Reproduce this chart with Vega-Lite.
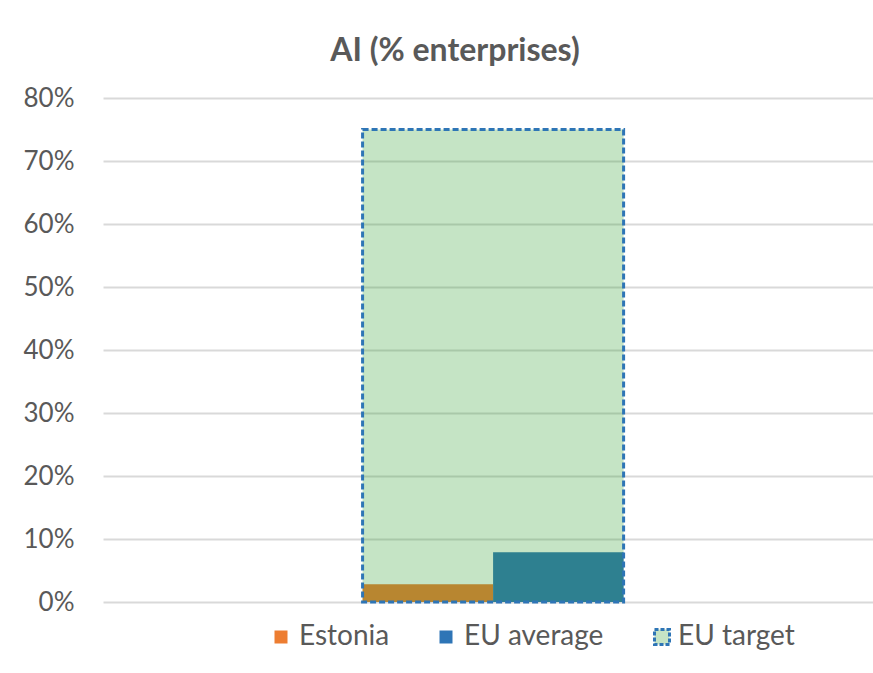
{
  "$schema": "https://vega.github.io/schema/vega-lite/v6.json",
  "autosize": "none",
  "width": 770,
  "height": 504,
  "padding": {"left": 103, "top": 98, "right": 0, "bottom": 71},
  "background": "white",
  "config": {
    "view": {"stroke": null},
    "font": "Lato"
  },
  "title": {
    "text": "AI (% enterprises)",
    "font": "Lato",
    "fontSize": 32,
    "fontWeight": "bold",
    "color": "#595959",
    "anchor": "middle",
    "baseline": "alphabetic",
    "dx": -33,
    "dy": 46,
    "offset": 38
  },
  "data": {
    "values": [
      {"cat": "AI", "series": "Estonia", "value": 0.028},
      {"cat": "AI", "series": "EU average", "value": 0.079},
      {"cat": "AI", "series": "EU target", "value": 0.75}
    ]
  },
  "encoding": {
    "x": {
      "field": "cat",
      "type": "nominal",
      "axis": null,
      "scale": {"paddingInner": 0, "paddingOuter": 0.975, "align": 0.51}
    },
    "y": {
      "field": "value",
      "type": "quantitative",
      "scale": {"domain": [0, 0.8]},
      "axis": {
        "title": null,
        "values": [0, 0.1, 0.2, 0.3, 0.4, 0.5, 0.6, 0.7, 0.8],
        "format": ".0%",
        "domain": false,
        "ticks": false,
        "labelFont": "Lato",
        "labelFontSize": 26,
        "labelColor": "#595959",
        "labelPadding": 29,
        "gridColor": "#d9d9d9",
        "gridWidth": 2
      }
    }
  },
  "layer": [
    {
      "transform": [{"filter": "datum.series === 'EU target'"}],
      "mark": {"type": "bar", "fillOpacity": 0},
      "encoding": {
        "fill": {
          "field": "series",
          "type": "nominal",
          "scale": {"domain": ["EU target"], "range": ["#c5e4c5"]},
          "legend": {
            "title": null,
            "orient": "none",
            "direction": "horizontal",
            "legendX": 545,
            "legendY": 525,
            "symbolType": "square",
            "symbolSize": 225,
            "symbolStrokeColor": "#2e75b6",
            "symbolStrokeWidth": 3,
            "symbolDash": [4, 2],
            "labelFont": "Lato",
            "labelFontSize": 28,
            "labelColor": "#595959",
            "labelOffset": 2
          }
        }
      }
    },
    {
      "transform": [{"filter": "datum.series !== 'EU target'"}],
      "mark": {"type": "bar", "opacity": 1},
      "encoding": {
        "xOffset": {
          "field": "series",
          "type": "nominal",
          "sort": ["Estonia", "EU average"],
          "scale": {"paddingInner": 0, "paddingOuter": 0}
        },
        "color": {
          "field": "series",
          "type": "nominal",
          "scale": {
            "domain": ["Estonia", "EU average"],
            "range": ["#ed7d31", "#2e75b6"]
          },
          "legend": {
            "title": null,
            "orient": "none",
            "direction": "horizontal",
            "legendX": 164,
            "legendY": 525,
            "symbolType": "square",
            "symbolSize": 169,
            "labelFont": "Lato",
            "labelFontSize": 28,
            "labelColor": "#595959",
            "labelOffset": 4,
            "columnPadding": 42
          }
        }
      }
    },
    {
      "transform": [{"filter": "datum.series === 'EU target'"}],
      "mark": {
        "type": "bar",
        "fill": "#309e30",
        "fillOpacity": 0.28,
        "stroke": "#2e75b6",
        "strokeWidth": 3,
        "strokeDash": [6, 3],
        "strokeOpacity": 1
      }
    }
  ]
}
